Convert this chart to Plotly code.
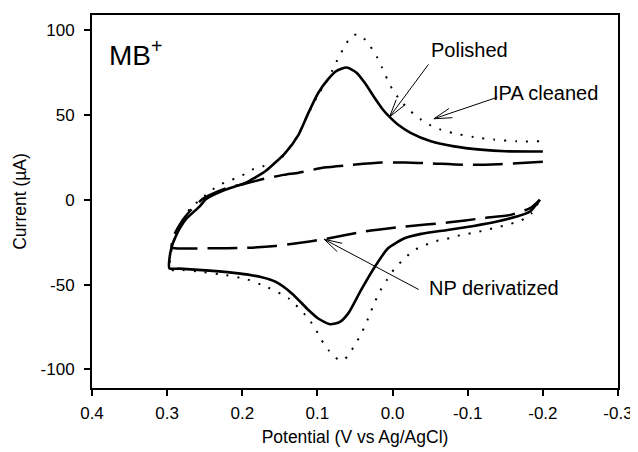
import math
import plotly.graph_objects as go

# ---- data ----
polished_x = [-0.200, -0.150, -0.117, -0.082, -0.051, -0.024, -0.007, 0.004, 0.013, 0.024, 0.037, 0.048,
              0.061, 0.075, 0.086, 0.099, 0.112, 0.125, 0.143, 0.169, 0.196, 0.222, 0.248, 0.257, 0.275,
              0.288, 0.295, 0.297,
              0.284, 0.244, 0.205, 0.174, 0.156, 0.134, 0.112, 0.099, 0.083, 0.070, 0.059, 0.042, 0.024,
              0.006, -0.016, -0.038, -0.073, -0.108, -0.139, -0.165, -0.183, -0.196]
polished_y = [28.5, 28.6, 29.6, 31.5, 34.5, 39.5, 44.4, 48.9, 53.3, 60.2, 69.0, 75.0,
              78.0, 75.9, 71.0, 63.0, 51.3, 38.5, 27.6, 17.0, 10.0, 6.0, 0.5, -4.0, -11.5,
              -21.0, -29.6, -40.4,
              -40.6, -41.8, -43.4, -45.7, -48.3, -55.2, -65.0, -70.0, -73.4, -72.0, -67.0, -53.3, -39.8,
              -28.6, -22.7, -20.1, -17.8, -15.4, -12.8, -9.9, -6.9, 0.0]

ipa_x = [-0.195, -0.165, -0.135, -0.108, -0.080, -0.064, -0.051, -0.038, -0.024, -0.011, 0.000, 0.007,
         0.014, 0.021, 0.030, 0.040, 0.048, 0.055, 0.064, 0.072, 0.080, 0.088, 0.099, 0.112, 0.125,
         0.143, 0.157, 0.173, 0.187, 0.200, 0.214, 0.228, 0.242, 0.255, 0.270, 0.282, 0.292, 0.296,
         0.279, 0.252, 0.222, 0.194, 0.166, 0.138, 0.112, 0.103, 0.095, 0.085, 0.072, 0.065, 0.058,
         0.050, 0.042, 0.035, 0.029, 0.023, 0.016, 0.007, -0.002, -0.015, -0.029, -0.043, -0.057,
         -0.072, -0.086, -0.100, -0.115, -0.129, -0.143, -0.157, -0.171, -0.185, -0.195]
ipa_y = [34.5, 34.5, 35.5, 37.0, 39.4, 41.4, 43.8, 47.3, 52.3, 58.2, 65.0, 71.0,
         78.0, 84.4, 90.7, 96.0, 97.5, 96.5, 90.3, 83.8, 76.5, 69.5, 62.0, 51.0, 39.0,
         27.0, 21.7, 19.7, 17.8, 14.4, 11.8, 9.3, 5.3, 0.4, -5.5, -14.0, -25.0, -41.0,
         -41.4, -42.6, -44.4, -46.9, -51.7, -58.2, -70.0, -75.9, -82.4, -88.8, -94.3, -94.5, -91.1,
         -85.4, -79.3, -72.6, -66.1, -59.6, -53.3, -46.9, -41.0, -34.9, -29.6, -26.8, -24.4,
         -23.1, -21.3, -20.1, -18.8, -17.3, -15.8, -14.2, -12.2, -7.9, -1.0]

np_x = [-0.200, -0.140, -0.098, -0.050, -0.017, 0.015, 0.054, 0.091, 0.125, 0.145, 0.175, 0.199,
        0.221, 0.240, 0.253, 0.269, 0.281, 0.291, 0.294,
        0.290, 0.244, 0.196, 0.156, 0.125, 0.092, 0.037, -0.016, -0.073, -0.121, -0.157, -0.183, -0.196]
np_y = [22.4, 21.0, 20.6, 21.5, 22.0, 22.0, 20.6, 19.0, 16.0, 14.7, 12.0, 9.2,
        6.9, 3.5, 0.4, -6.3, -13.0, -21.0, -28.0,
        -28.6, -28.6, -28.4, -27.2, -25.5, -23.3, -18.7, -15.8, -13.4, -10.8, -8.9, -4.9, 0.0]

x_ticks = [0.4, 0.3, 0.2, 0.1, 0.0, -0.1, -0.2, -0.3]
x_tick_labels = ["0.4", "0.3", "0.2", "0.1", "0.0", "-0.1", "-0.2", "-0.3"]
y_ticks = [-100, -50, 0, 50, 100]
y_tick_labels = ["-100", "-50", "0", "50", "100"]

# annotation labels: (text, text position, arrow tip, tail offset in px)
labels = [
    ("Polished", (-0.103, 88.4), (0.004, 48.9), (40, -54)),
    ("IPA cleaned", (-0.204, 63.0), (-0.055, 47.8), (65, -22)),
    ("NP derivatized", (-0.135, -52.0), (0.091, -23.3), (96, 51)),
]

FONT = "Liberation Sans, Arial, sans-serif"
# the page body adds an 8px offset, so the figure is sized to fit inside the window
W, H = 630, 444
ML, MR, MT, MB = 84, 20, 7, 64
XR = [0.4, -0.3]
YR = [-111, 109]

fig = go.Figure()
fig.add_trace(go.Scatter(x=ipa_x, y=ipa_y, mode="lines", name="IPA cleaned",
                         line=dict(color="black", width=2, dash="2px,9px", shape="spline", smoothing=0.6)))
fig.add_trace(go.Scatter(x=np_x, y=np_y, mode="lines", name="NP derivatized",
                         line=dict(color="black", width=2.5, dash="30px,10px", shape="spline", smoothing=0.6)))
fig.add_trace(go.Scatter(x=polished_x, y=polished_y, mode="lines", name="Polished",
                         line=dict(color="black", width=2.6, shape="spline", smoothing=0.6)))

annotations = []
for text, (tx, ty), (hx, hy), (ox, oy) in labels:
    annotations.append(dict(x=tx, y=ty, xref="x", yref="y", text=text, showarrow=False,
                            font=dict(family=FONT, size=20, color="black")))
    annotations.append(dict(x=hx, y=hy, xref="x", yref="y", ax=ox, ay=oy, text="",
                            showarrow=True, arrowhead=0, arrowwidth=1, arrowcolor="black"))
    ang = math.atan2(oy, ox)
    for d in (-0.27, 0.27):
        annotations.append(dict(x=hx, y=hy, xref="x", yref="y",
                                ax=20 * math.cos(ang + d), ay=20 * math.sin(ang + d), text="",
                                showarrow=True, arrowhead=0, arrowwidth=1, arrowcolor="black"))

annotations.append(dict(x=0.380, y=86.6, xref="x", yref="y", xanchor="left", yanchor="middle",
                        text="MB<sup>+</sup>", showarrow=False,
                        font=dict(family=FONT, size=28, color="black")))

fig.update_layout(
    width=W, height=H,
    margin=dict(l=ML, r=MR, t=MT, b=MB, autoexpand=False),
    paper_bgcolor="white", plot_bgcolor="white",
    showlegend=False,
    font=dict(family=FONT, color="black"),
    annotations=annotations,
)
fig.update_xaxes(range=XR, tickvals=x_ticks, ticktext=x_tick_labels, automargin=False,
                 showgrid=False, zeroline=False, showline=True, mirror=True,
                 linecolor="black", linewidth=2, ticks="outside", ticklen=6, tickwidth=1.5,
                 tickcolor="black", tickfont=dict(family=FONT, size=17), ticklabelstandoff=3,
                 title=dict(text="Potential (V vs Ag/AgCl)", font=dict(family=FONT, size=17.5), standoff=8))
fig.update_yaxes(range=YR, tickvals=y_ticks, ticktext=y_tick_labels, automargin=False,
                 showgrid=False, zeroline=False, showline=True, mirror=True,
                 linecolor="black", linewidth=2, ticks="outside", ticklen=6, tickwidth=1.5,
                 tickcolor="black", tickfont=dict(family=FONT, size=17), ticklabelstandoff=6,
                 title=dict(text="Current (µA)", font=dict(family=FONT, size=17.5), standoff=9))

fig.write_html("out.html")
